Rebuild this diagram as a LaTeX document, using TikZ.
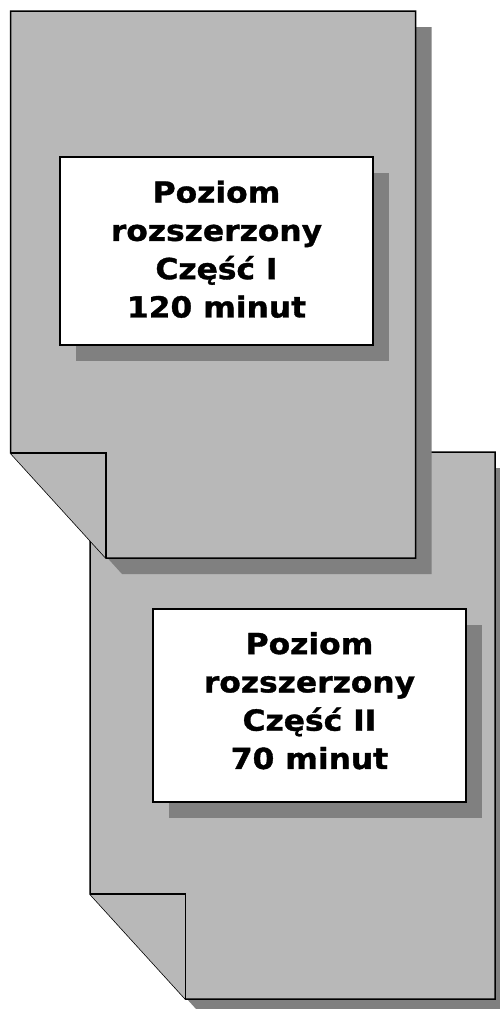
\documentclass[tikz,border=0pt]{standalone}
\usepackage{fontspec}
\usepackage{tikz}
\usetikzlibrary{shadows}
\newfontfamily\boxfont[FakeStretch=1.08, BoldFeatures={FakeBold=1.2}]{DejaVu Sans}
\definecolor{sheetgray}{RGB}{184,184,184}
\definecolor{shadegray}{RGB}{128,128,128}
\tikzset{
	sheet/.style={draw=black, line width=1.5pt, fill=sheetgray, line join=miter},
	sheetshade/.style={fill=shadegray},
	titlebox/.style={draw=black, line width=1.5pt, fill=white, inner sep=0pt,
		minimum width=313pt, align=center,
		font=\boxfont\bfseries\fontsize{29}{38.3}\selectfont,
		drop shadow={shadow xshift=16pt, shadow yshift=-16pt, opacity=1, fill=shadegray}}
}
\def\docpage(#1){%
	\begin{scope}[shift={(#1)}]
		\fill[sheetshade] (16,16) -- (421,16) -- (421,563) -- (111.5,563) -- (16,458) -- cycle;
		\draw[sheet] (0,0) -- (405,0) -- (405,547) -- (95.5,547) -- (0,442) -- cycle;
		\draw[sheet] (0,442) -- (95.5,442) -- (95.5,547);
	\end{scope}}

\begin{document}
\begin{tikzpicture}[x=1pt, y=-1pt]
		%%%%% START %%%%%
		\useasboundingbox (0,0) rectangle (500,1009);
		
		% second sheet lies under the first one
		\docpage(90,452)
		\docpage(10.5,11)
		
		\node[titlebox, minimum height=188pt, text depth=4pt] (partone) at (216.5,251) {Poziom\\rozszerzony\\Część I\\120 minut};
		\node[titlebox, minimum height=193pt, text depth=10pt] (parttwo) at (309.5,705.5) {Poziom\\rozszerzony\\Część II\\70 minut};
		
		%%%%% END %%%%%
	\end{tikzpicture}
\end{document}
